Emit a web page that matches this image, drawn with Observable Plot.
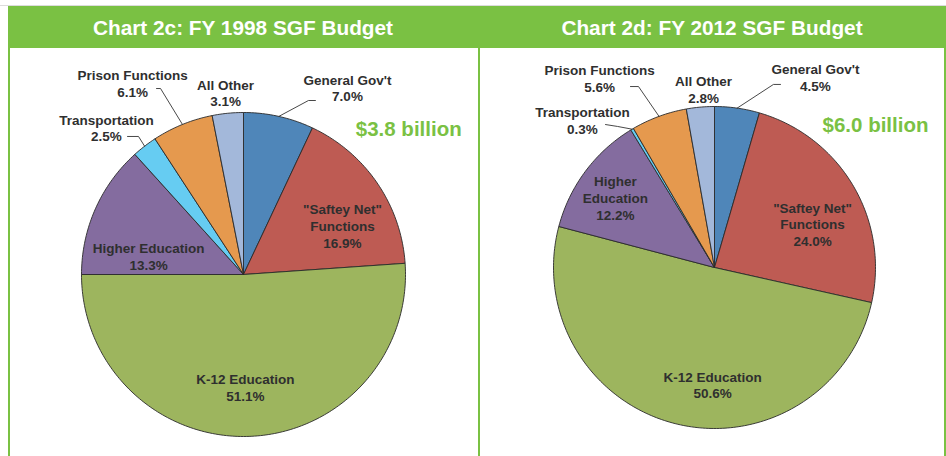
<!DOCTYPE html>
<html><head><meta charset="utf-8">
<script src="https://cdn.jsdelivr.net/npm/d3@7"></script>
<script src="https://cdn.jsdelivr.net/npm/@observablehq/plot@0.6"></script>
<style>
html,body{margin:0;padding:0;background:#fff;}
#wrap{position:relative;width:946px;height:456px;overflow:hidden;font-family:"Liberation Sans",Arial,Helvetica,sans-serif;background:#fff;}
.topline{position:absolute;left:0;top:5px;width:946px;height:1px;background:#dcdcdc;}
.header{position:absolute;top:6px;left:8px;width:938px;height:42px;background:#7AC143;}
.htitle{position:absolute;top:6px;height:42px;line-height:43px;color:#fff;font-weight:bold;font-size:20.8px;text-align:center;white-space:nowrap;}
.vline{position:absolute;top:48px;height:408px;width:2px;background:#7AC143;}
.panel{position:absolute;top:48px;}
</style></head><body>
<div id="wrap">
  <div class="topline"></div>
  <div class="header"></div>
</div>
<script>
// ---- data ----
const categories = ["General Gov't", "\"Saftey Net\" Functions", "K-12 Education", "Higher Education", "Transportation", "Prison Functions", "All Other"];
const labels1998 = ["General Gov't", "\"Saftey Net\"\nFunctions", "K-12 Education", "Higher Education", "Transportation", "Prison Functions", "All Other"];
const labels2012 = ["General Gov't", "\"Saftey Net\"\nFunctions", "K-12 Education", "Higher\nEducation", "Transportation", "Prison Functions", "All Other"];
const share1998 = [7.0, 16.9, 51.1, 13.3, 2.5, 6.1, 3.1];
const share2012 = [4.5, 24.0, 50.6, 12.2, 0.3, 5.6, 2.8];
const titles = ["Chart 2c: FY 1998 SGF Budget", "Chart 2d: FY 2012 SGF Budget"];
const totals = ["$3.8 billion", "$6.0 billion"];

// ---- styles / layout ----
const sliceColors = ["#4F86B9", "#BE5B53", "#9DB55E", "#846C9F", "#66CCF2", "#E5994E", "#A3B8DA"];
const green = "#7AC143";
// label positions in pie-radius units (x right, y up)
const labelPos1998 = [[0.642,1.154],[0.611,0.302],[0.012,-0.694],[-0.586,0.114],[-0.846,0.907],[-0.685,1.182],[-0.111,1.123]];
const labelPos2012 = [[0.627,1.183],[0.609,0.270],[-0.012,-0.727],[-0.615,0.435],[-0.820,0.916],[-0.714,1.177],[-0.068,1.106]];
// leader lines: category index -> [elbow, end]
const leaders1998 = {0: [[0.401,1.074],[0.444,1.074]], 4: [[-0.648,0.852],[-0.716,0.852]], 5: [[-0.512,1.148],[-0.537,1.148]]};
const leaders2012 = {0: [[0.366,1.137],[0.410,1.137]], 4: [[-0.602,0.876],[-0.677,0.888]], 5: [[-0.472,1.124],[-0.522,1.124]]};
const totalPos = [[1.02,0.895],[1.0,0.882]];

const panels = [
  {left: 10, width: 467, cx: 233, cy: 226, r: 162, titleLeft: 8, titleWidth: 470},
  {left: 480, width: 464, cx: 234, cy: 219, r: 161, titleLeft: 478, titleWidth: 468}
];

function angleRows(values) {
  let acc = 0;
  return values.map((v, i) => {
    const a0 = acc / 100 * 2 * Math.PI; acc += v;
    const a1 = acc / 100 * 2 * Math.PI;
    return {i, v, a0, a1, mid: (a0 + a1) / 2};
  });
}

function makePie(values, labels, labelPos, leaders, total, tPos, P) {
  const arcs = angleRows(values);
  const sliceRows = [];
  arcs.forEach(s => {
    const n = Math.max(2, Math.ceil((s.a1 - s.a0) / (Math.PI / 180)));
    sliceRows.push({k: s.i, x: 0, y: 0, c: sliceColors[s.i]});
    for (let j = 0; j <= n; j++) {
      const a = s.a0 + (s.a1 - s.a0) * j / n;
      sliceRows.push({k: s.i, x: Math.sin(a), y: Math.cos(a), c: sliceColors[s.i]});
    }
    sliceRows.push({k: s.i, x: 0, y: 0, c: sliceColors[s.i]});
  });
  const leaderRows = [];
  Object.entries(leaders).forEach(([k, pts]) => {
    const s = arcs[+k];
    leaderRows.push({k: +k, x: Math.sin(s.mid), y: Math.cos(s.mid)});
    pts.forEach(p => leaderRows.push({k: +k, x: p[0], y: p[1]}));
  });
  const labelRows = arcs.map(s => ({
    x: labelPos[s.i][0], y: labelPos[s.i][1],
    text: `${labels[s.i]}\n${s.v.toFixed(1)}%`
  }));
  return Plot.plot({
    width: P.width, height: 408,
    margin: 0,
    x: {domain: [-1, 1], range: [P.cx - P.r, P.cx + P.r], axis: null},
    y: {domain: [-1, 1], range: [P.cy + P.r, P.cy - P.r], axis: null},
    color: {type: "identity"},
    style: {fontFamily: "'Liberation Sans', Arial, Helvetica, sans-serif", background: "transparent", overflow: "visible"},
    marks: [
      Plot.line(sliceRows, {x: "x", y: "y", z: "k", fill: "c", stroke: "#2a2a2a", strokeWidth: 0.9, curve: "linear"}),
      Plot.line(leaderRows, {x: "x", y: "y", z: "k", stroke: "#333", strokeWidth: 0.9, curve: "linear"}),
      Plot.text(labelRows, {x: "x", y: "y", text: "text", fontSize: 13.5, fontWeight: "bold", fill: "#2f2f2f", lineHeight: 1.25, textAnchor: "middle"}),
      Plot.text([total], {x: () => tPos[0], y: () => tPos[1], text: d => d, fontSize: 20.5, fontWeight: "bold", fill: green, textAnchor: "middle"})
    ]
  });
}

const wrap = document.getElementById("wrap");
const sets = [
  [share1998, labels1998, labelPos1998, leaders1998],
  [share2012, labels2012, labelPos2012, leaders2012]
];
panels.forEach((P, idx) => {
  const t = document.createElement("div");
  t.className = "htitle";
  t.style.left = P.titleLeft + "px"; t.style.width = P.titleWidth + "px";
  t.textContent = titles[idx];
  wrap.appendChild(t);
  const div = document.createElement("div");
  div.className = "panel";
  div.style.left = P.left + "px";
  const [vals, labs, lp, ld] = sets[idx];
  div.appendChild(makePie(vals, labs, lp, ld, totals[idx], totalPos[idx], P));
  wrap.appendChild(div);
});
[8, 477.5, 944].forEach(x => {
  const v = document.createElement("div");
  v.className = "vline"; v.style.left = x + "px";
  wrap.appendChild(v);
});
</script>
</body></html>
